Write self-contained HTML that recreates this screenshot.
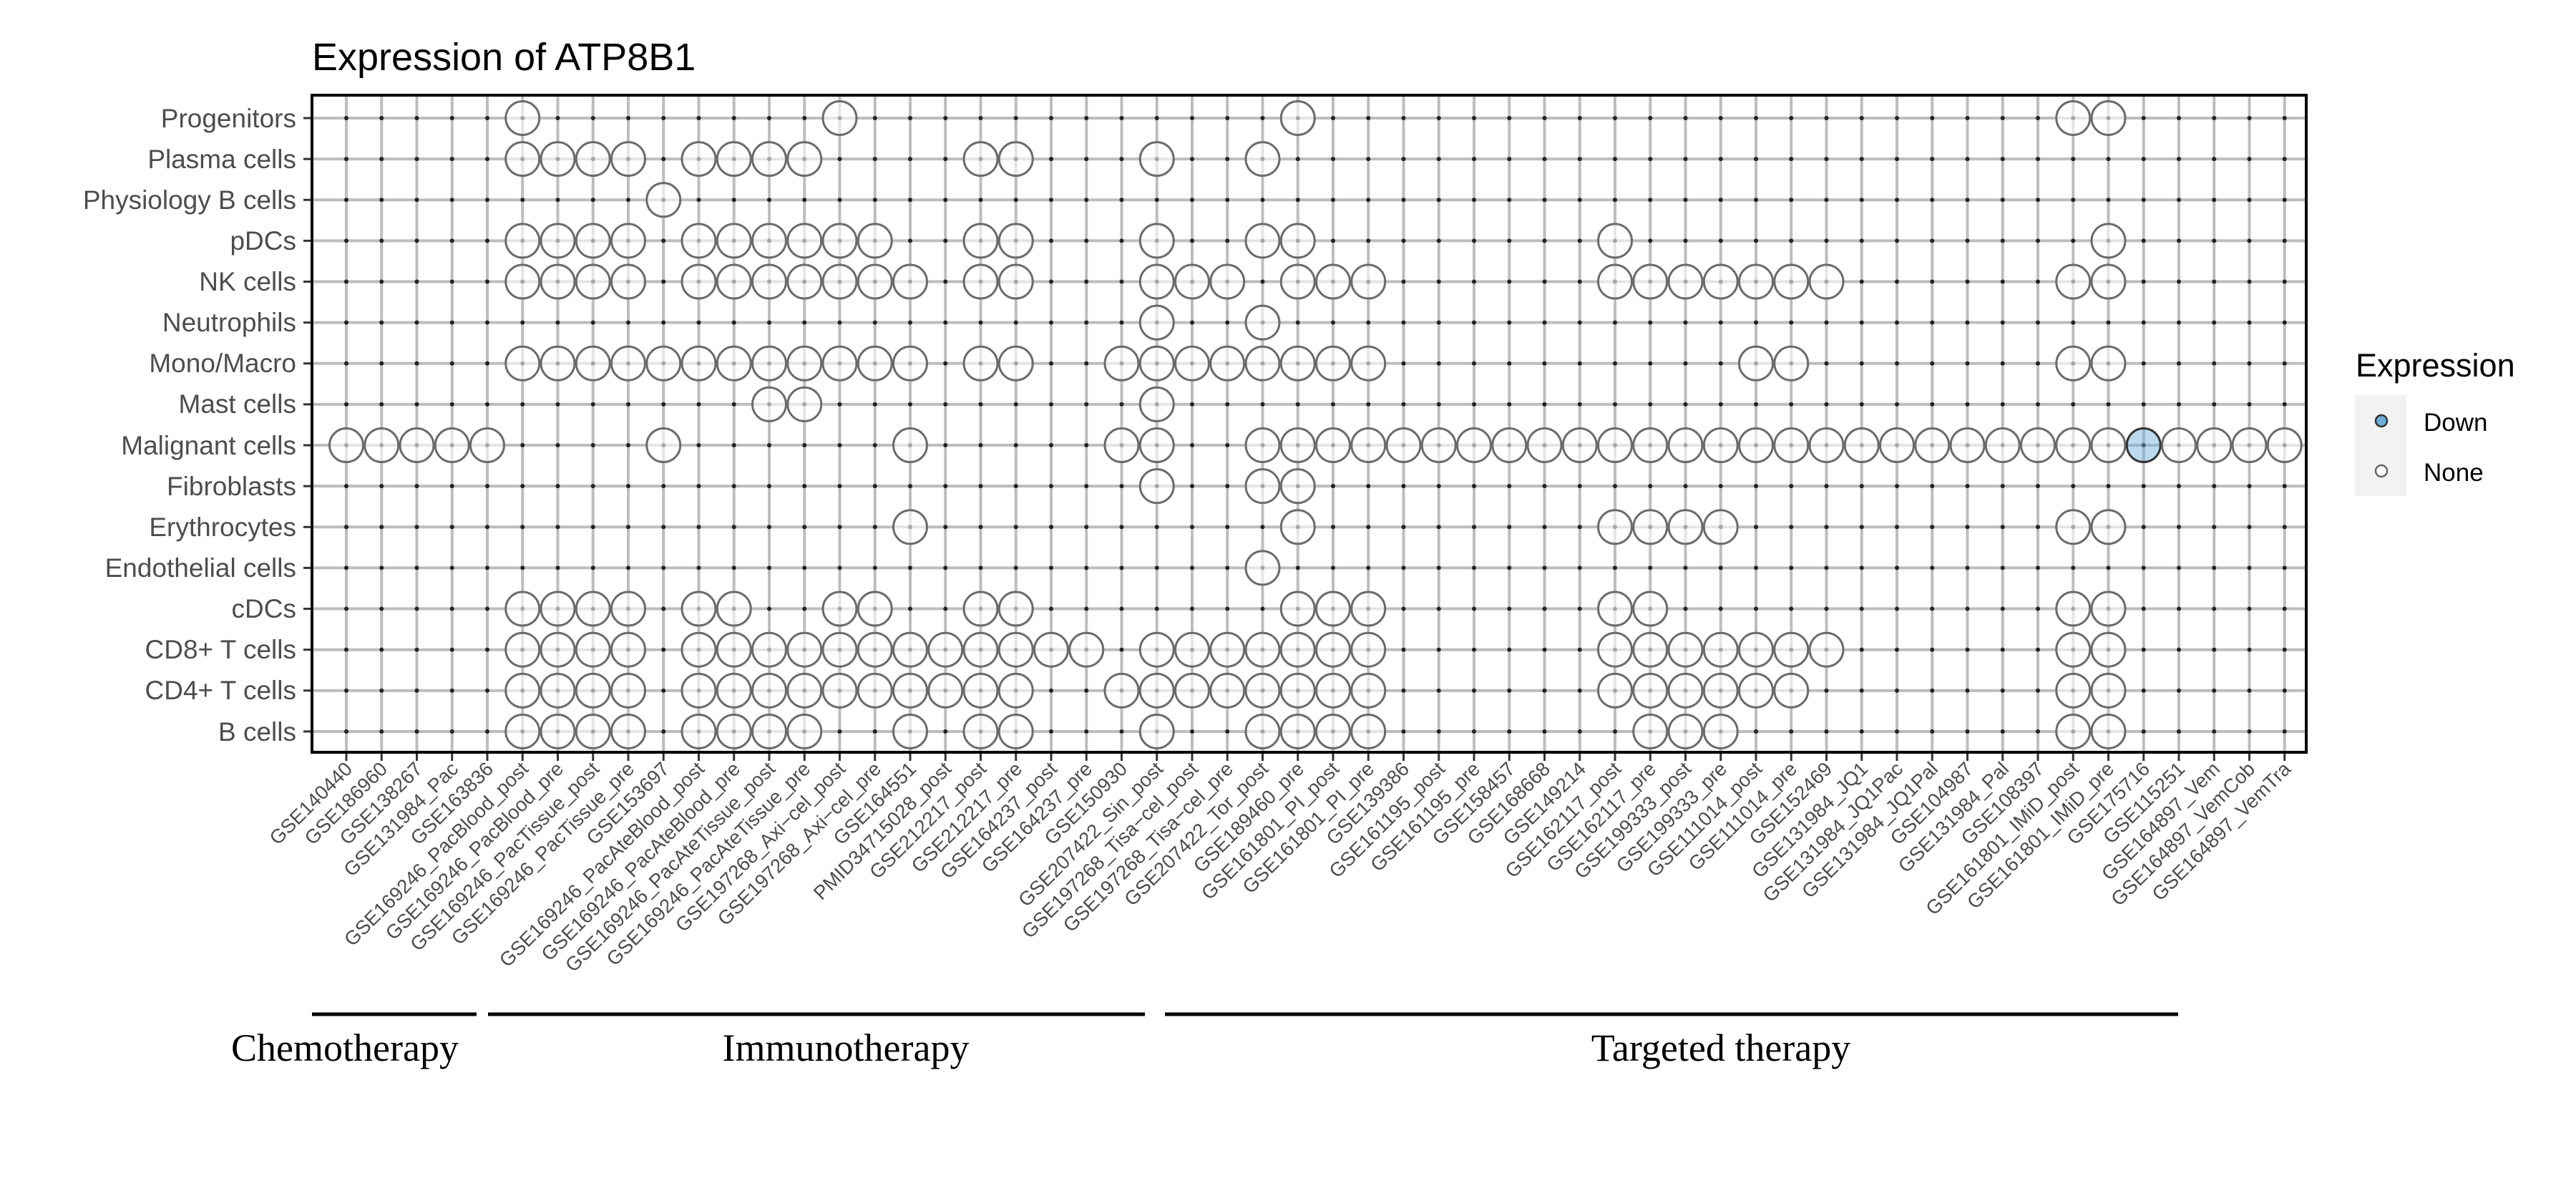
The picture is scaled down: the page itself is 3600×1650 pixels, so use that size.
<!DOCTYPE html>
<html><head><meta charset="utf-8"><style>
html,body{margin:0;padding:0;background:#fff;}
svg{display:block;}
.yl{font-family:"Liberation Sans",sans-serif;font-size:37px;fill:#4d4d4d;text-anchor:end;}
.xl{font-family:"Liberation Sans",sans-serif;font-size:27.5px;fill:#4d4d4d;text-anchor:end;}
.grp{font-family:"Liberation Serif",serif;font-size:54px;fill:#000;text-anchor:middle;}
</style></head><body>
<svg id="s" width="3600" height="1650" viewBox="0 0 3600 1650" xmlns="http://www.w3.org/2000/svg">
<rect width="3600" height="1650" fill="#fff"/>
<text x="436" y="98" font-family="Liberation Sans, sans-serif" font-size="54" fill="#000">Expression of ATP8B1</text>
<g id="grid"></g>
<g id="pts"></g>
<rect x="436" y="133" width="2787" height="918" fill="none" stroke="#000" stroke-width="4"/>
<g id="ticks"></g>
<g class="yl">
<text x="414" y="178">Progenitors</text>
<text x="414" y="235">Plasma cells</text>
<text x="414" y="292">Physiology B cells</text>
<text x="414" y="349">pDCs</text>
<text x="414" y="406">NK cells</text>
<text x="414" y="463">Neutrophils</text>
<text x="414" y="520">Mono/Macro</text>
<text x="414" y="577">Mast cells</text>
<text x="414" y="635">Malignant cells</text>
<text x="414" y="692">Fibroblasts</text>
<text x="414" y="749">Erythrocytes</text>
<text x="414" y="806">Endothelial cells</text>
<text x="414" y="863">cDCs</text>
<text x="414" y="920">CD8+ T cells</text>
<text x="414" y="977">CD4+ T cells</text>
<text x="414" y="1035">B cells</text>
</g>
<g class="xl">
<text transform="translate(494,1076) rotate(-45)">GSE140440</text>
<text transform="translate(543,1076) rotate(-45)">GSE186960</text>
<text transform="translate(592,1076) rotate(-45)">GSE138267</text>
<text transform="translate(642,1076) rotate(-45)">GSE131984_Pac</text>
<text transform="translate(691,1076) rotate(-45)">GSE163836</text>
<text transform="translate(740,1076) rotate(-45)">GSE169246_PacBlood_post</text>
<text transform="translate(789,1076) rotate(-45)">GSE169246_PacBlood_pre</text>
<text transform="translate(839,1076) rotate(-45)">GSE169246_PacTissue_post</text>
<text transform="translate(888,1076) rotate(-45)">GSE169246_PacTissue_pre</text>
<text transform="translate(937,1076) rotate(-45)">GSE153697</text>
<text transform="translate(986,1076) rotate(-45)">GSE169246_PacAteBlood_post</text>
<text transform="translate(1036,1076) rotate(-45)">GSE169246_PacAteBlood_pre</text>
<text transform="translate(1085,1076) rotate(-45)">GSE169246_PacAteTissue_post</text>
<text transform="translate(1134,1076) rotate(-45)">GSE169246_PacAteTissue_pre</text>
<text transform="translate(1183,1076) rotate(-45)">GSE197268_Axi−cel_post</text>
<text transform="translate(1233,1076) rotate(-45)">GSE197268_Axi−cel_pre</text>
<text transform="translate(1282,1076) rotate(-45)">GSE164551</text>
<text transform="translate(1331,1076) rotate(-45)">PMID34715028_post</text>
<text transform="translate(1380,1076) rotate(-45)">GSE212217_post</text>
<text transform="translate(1430,1076) rotate(-45)">GSE212217_pre</text>
<text transform="translate(1479,1076) rotate(-45)">GSE164237_post</text>
<text transform="translate(1528,1076) rotate(-45)">GSE164237_pre</text>
<text transform="translate(1577,1076) rotate(-45)">GSE150930</text>
<text transform="translate(1627,1076) rotate(-45)">GSE207422_Sin_post</text>
<text transform="translate(1676,1076) rotate(-45)">GSE197268_Tisa−cel_post</text>
<text transform="translate(1725,1076) rotate(-45)">GSE197268_Tisa−cel_pre</text>
<text transform="translate(1774,1076) rotate(-45)">GSE207422_Tor_post</text>
<text transform="translate(1824,1076) rotate(-45)">GSE189460_pre</text>
<text transform="translate(1873,1076) rotate(-45)">GSE161801_PI_post</text>
<text transform="translate(1922,1076) rotate(-45)">GSE161801_PI_pre</text>
<text transform="translate(1971,1076) rotate(-45)">GSE139386</text>
<text transform="translate(2021,1076) rotate(-45)">GSE161195_post</text>
<text transform="translate(2070,1076) rotate(-45)">GSE161195_pre</text>
<text transform="translate(2119,1076) rotate(-45)">GSE158457</text>
<text transform="translate(2168,1076) rotate(-45)">GSE168668</text>
<text transform="translate(2218,1076) rotate(-45)">GSE149214</text>
<text transform="translate(2267,1076) rotate(-45)">GSE162117_post</text>
<text transform="translate(2316,1076) rotate(-45)">GSE162117_pre</text>
<text transform="translate(2365,1076) rotate(-45)">GSE199333_post</text>
<text transform="translate(2415,1076) rotate(-45)">GSE199333_pre</text>
<text transform="translate(2464,1076) rotate(-45)">GSE111014_post</text>
<text transform="translate(2513,1076) rotate(-45)">GSE111014_pre</text>
<text transform="translate(2562,1076) rotate(-45)">GSE152469</text>
<text transform="translate(2612,1076) rotate(-45)">GSE131984_JQ1</text>
<text transform="translate(2661,1076) rotate(-45)">GSE131984_JQ1Pac</text>
<text transform="translate(2710,1076) rotate(-45)">GSE131984_JQ1Pal</text>
<text transform="translate(2759,1076) rotate(-45)">GSE104987</text>
<text transform="translate(2809,1076) rotate(-45)">GSE131984_Pal</text>
<text transform="translate(2858,1076) rotate(-45)">GSE108397</text>
<text transform="translate(2907,1076) rotate(-45)">GSE161801_IMiD_post</text>
<text transform="translate(2956,1076) rotate(-45)">GSE161801_IMiD_pre</text>
<text transform="translate(3006,1076) rotate(-45)">GSE175716</text>
<text transform="translate(3055,1076) rotate(-45)">GSE115251</text>
<text transform="translate(3104,1076) rotate(-45)">GSE164897_Vem</text>
<text transform="translate(3153,1076) rotate(-45)">GSE164897_VemCob</text>
<text transform="translate(3203,1076) rotate(-45)">GSE164897_VemTra</text>
</g>
<g stroke="#000" stroke-width="5">
<line x1="436" y1="1417" x2="666" y2="1417"/>
<line x1="682" y1="1417" x2="1600" y2="1417"/>
<line x1="1628" y1="1417" x2="3044" y2="1417"/>
</g>
<text class="grp" x="482" y="1482">Chemotherapy</text>
<text class="grp" x="1182" y="1482">Immunotherapy</text>
<text class="grp" x="2405" y="1482">Targeted therapy</text>
<text x="3292" y="526" font-family="Liberation Sans, sans-serif" font-size="45" fill="#000">Expression</text>
<rect x="3291" y="552" width="72" height="141" fill="#f2f2f2"/>
<circle cx="3328" cy="588" r="8" fill="#6baed6" stroke="#333" stroke-width="2.5"/>
<circle cx="3328" cy="658" r="8" fill="#fff" stroke="#666" stroke-width="2.5"/>
<text x="3387" y="602" font-family="Liberation Sans, sans-serif" font-size="35" fill="#000">Down</text>
<text x="3387" y="672" font-family="Liberation Sans, sans-serif" font-size="35" fill="#000">None</text>
</svg>
<script>
(function(){
var NS="http://www.w3.org/2000/svg";
function X(i){return 484+49.25*i;}
function Y(r){return 165+57.13*r;}
function R(a,b){var o=[];for(var i=a;i<=b;i++)o.push(i);return o;}
var rows=[
[5,14,27,49,50],
R(5,8).concat(R(10,13),[18,19,23,26]),
[9],
R(5,8).concat(R(10,15),[18,19,23,26,27,36,50]),
R(5,8).concat(R(10,16),[18,19],R(23,25),R(27,29),R(36,42),[49,50]),
[23,26],
R(5,16).concat([18,19],R(22,29),[40,41,49,50]),
[12,13,23],
R(0,4).concat([9,16,22,23],R(26,55)),
[23,26,27],
[16,27].concat(R(36,39),[49,50]),
[26],
R(5,8).concat([10,11,14,15,18,19],R(27,29),[36,37,49,50]),
R(5,8).concat(R(10,21),R(23,29),R(36,42),[49,50]),
R(5,8).concat(R(10,19),R(22,29),R(36,41),[49,50]),
R(5,8).concat(R(10,13),[16,18,19,23],R(26,29),R(37,39),[49,50])
];
function el(p,t,a){var e=document.createElementNS(NS,t);for(var k in a)e.setAttribute(k,a[k]);p.appendChild(e);return e;}
var g=document.getElementById('grid'),p=document.getElementById('pts'),tk=document.getElementById('ticks');
for(var i=0;i<56;i++){el(g,'line',{x1:X(i),y1:133,x2:X(i),y2:1051,stroke:'#bdbdbd','stroke-width':4});
 el(tk,'line',{x1:X(i),y1:1053,x2:X(i),y2:1063,stroke:'#333','stroke-width':3});}
for(var r=0;r<16;r++){el(g,'line',{x1:436,y1:Y(r),x2:3223,y2:Y(r),stroke:'#bdbdbd','stroke-width':4});
 el(tk,'line',{x1:424,y1:Y(r),x2:434,y2:Y(r),stroke:'#333','stroke-width':3});}
for(var r=0;r<16;r++)for(var i=0;i<56;i++)el(p,'circle',{cx:X(i),cy:Y(r),r:3,fill:'#222'});
for(var r=0;r<16;r++)rows[r].forEach(function(i){
 if(r==8&&i==51)el(p,'circle',{cx:X(i),cy:Y(r),r:23.5,fill:'rgba(107,174,214,0.45)',stroke:'#333','stroke-width':3});
 else el(p,'circle',{cx:X(i),cy:Y(r),r:23.5,fill:'rgba(255,255,255,0.6)',stroke:'#6b6b6b','stroke-width':3});
});
})();
</script>
</body></html>
